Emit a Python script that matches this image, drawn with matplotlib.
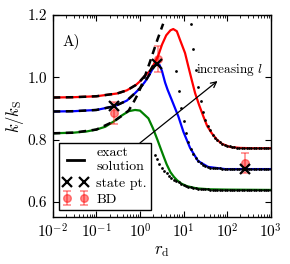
import numpy as np
import matplotlib
matplotlib.use("Agg")
import matplotlib.pyplot as plt
from matplotlib.lines import Line2D

plt.rcParams['font.family'] = ['cmr10', 'DejaVu Serif']
plt.rcParams['mathtext.fontset'] = 'cm'
plt.rcParams['axes.formatter.use_mathtext'] = True

# ---- exact solutions (three values of l) ----
red_r = [0.01, 0.03, 0.1, 0.3, 0.5, 0.8, 1.0, 1.3, 1.7, 2.2, 2.6, 3.2, 4.0, 5.0, 5.8, 7.0, 8.3,
         10.8, 12.9, 15.4, 18.4, 22.7, 28.5, 34.6, 44.4, 58.7, 76.4, 117, 198, 400, 1000]
red_y = [0.935, 0.936, 0.939, 0.948, 0.958, 0.975, 0.987, 1.005, 1.020, 1.048, 1.068, 1.105, 1.135,
         1.151, 1.155, 1.148, 1.120, 1.078, 1.034, 0.991, 0.949, 0.911, 0.874, 0.844, 0.820, 0.799,
         0.786, 0.776, 0.773, 0.772, 0.772]

blue_r = [0.01, 0.03, 0.1, 0.26, 0.5, 0.77, 1.0, 1.31, 1.7, 2.1, 2.5, 2.8, 3.2, 3.77, 4.3, 5.36, 7.6,
          9.9, 14.1, 21.5, 36.5, 89.5, 300, 1000]
blue_y = [0.890, 0.891, 0.895, 0.907, 0.925, 0.949, 0.965, 0.986, 1.012, 1.035, 1.044, 1.040, 1.020,
          0.983, 0.960, 0.927, 0.874, 0.825, 0.773, 0.731, 0.712, 0.705, 0.705, 0.705]

green_r = [0.01, 0.03, 0.06, 0.1, 0.16, 0.25, 0.38, 0.55, 0.77, 1.0, 1.56, 2.0, 2.5, 3.0, 3.5, 4.1,
           5.0, 6.0, 7.1, 9.0, 12, 20, 40, 100, 1000]
green_y = [0.820, 0.822, 0.826, 0.832, 0.841, 0.858, 0.877, 0.891, 0.895, 0.893, 0.868, 0.835, 0.800,
           0.770, 0.745, 0.720, 0.695, 0.680, 0.669, 0.658, 0.650, 0.643, 0.640, 0.639, 0.638]

# ---- small-r expansions (dashed) ----
red_dash_r = [0.01, 0.03, 0.1, 0.3, 0.5, 0.8, 1.0, 1.3, 1.7, 2.2]
red_dash_y = [0.935, 0.936, 0.939, 0.948, 0.958, 0.975, 0.987, 1.005, 1.020, 1.048]
blue_dash_r = [0.01, 0.03, 0.1, 0.26, 0.5, 0.77, 1.0, 1.31, 1.7, 2.1, 2.5]
blue_dash_y = [0.890, 0.891, 0.895, 0.907, 0.925, 0.949, 0.965, 0.986, 1.012, 1.035, 1.044]
green_dash_r = [0.01, 0.03, 0.1, 0.25, 0.4, 0.55, 0.7, 0.92, 1.2, 1.7, 2.5, 3.4]
green_dash_y = [0.820, 0.822, 0.832, 0.858, 0.878, 0.893, 0.918, 0.949, 0.990, 1.050, 1.120, 1.172]

# ---- large-r expansions (dotted) ----
dot_r = [2.154, 2.448, 2.783, 3.162, 3.594, 4.084, 4.642, 5.275, 5.995, 6.813, 7.743, 8.799,
         10.0, 11.37, 12.92, 14.68, 16.68, 18.96, 21.54, 24.48, 27.83, 31.62, 35.94, 40.84,
         46.42, 52.75, 59.95, 68.13, 77.43, 87.99, 100.0, 113.7, 129.2, 146.8, 166.8, 189.6,
         215.4, 244.8, 278.3, 316.2, 359.4, 408.4, 464.2, 527.5, 599.5, 681.3, 774.3, 879.9, 1000.0]
red_dot_y = [None] * 15 + [1.170, 1.090, 1.025, 0.970, 0.925, 0.890, 0.864, 0.845, 0.829, 0.816,
             0.806, 0.798, 0.792, 0.787, 0.783, 0.780, 0.778, 0.776, 0.775, 0.774, 0.774, 0.773,
             0.773, 0.773, 0.773, 0.772, 0.772, 0.772, 0.772, 0.772, 0.772, 0.772, 0.772, 0.772]
blue_dot_y = [None] * 9 + [1.020, 0.955, 0.900, 0.860, 0.822, 0.793, 0.770, 0.752, 0.740, 0.731,
              0.724, 0.719, 0.715, 0.712, 0.710, 0.709, 0.708, 0.707, 0.707, 0.706, 0.706, 0.706,
              0.705, 0.705, 0.705, 0.705, 0.705, 0.705, 0.705, 0.705, 0.705, 0.705, 0.705, 0.705,
              0.705, 0.705, 0.705, 0.705, 0.705, 0.705]
green_dot_y = [0.750, 0.737, 0.720, 0.707, 0.699, 0.691, 0.684, 0.677, 0.671, 0.666, 0.662, 0.658,
               0.654, 0.651, 0.648, 0.646, 0.644, 0.643, 0.642, 0.641, 0.640, 0.640, 0.640, 0.639,
               0.639, 0.639, 0.638, 0.638, 0.638, 0.638, 0.638, 0.638, 0.638, 0.638, 0.638, 0.638,
               0.638, 0.638, 0.638, 0.638, 0.638, 0.638, 0.638, 0.638, 0.638, 0.638, 0.638, 0.638,
               0.638]

# ---- state points and BD ----
state_r = [0.26, 2.5, 258]
state_y = [0.908, 1.044, 0.705]
bd_r = [0.26, 2.56, 258]
bd_y = [0.885, 1.059, 0.725]
bd_err = [0.036, 0.043, 0.031]

xticks = [1e-2, 1e-1, 1e0, 1e1, 1e2, 1e3]
yticks = [0.6, 0.8, 1.0, 1.2]

fig = plt.figure(figsize=(2.9, 2.64), dpi=100)
ax = fig.add_axes([0.182, 0.178, 0.7517, 0.765])

for r, y, c in [(red_r, red_y, 'red'), (blue_r, blue_y, 'blue'), (green_r, green_y, '#008000')]:
    ax.plot(r, y, color=c, lw=1.6, zorder=2)

for r, y in [(red_dash_r, red_dash_y), (blue_dash_r, blue_dash_y), (green_dash_r, green_dash_y)]:
    ax.plot(r, y, color='black', lw=1.8, ls=(0, (3.0, 2.2)), zorder=3)

for ys in [red_dot_y, blue_dot_y, green_dot_y]:
    pr = [r for r, v in zip(dot_r, ys) if v is not None]
    pv = [v for v in ys if v is not None]
    ax.plot(pr, pv, 'o', color='black', ms=2.0, mew=0, zorder=3)

bd = ax.errorbar(bd_r, bd_y, yerr=bd_err, fmt='o', color='red', alpha=0.45, ms=5.5,
                 mec='red', capsize=3, elinewidth=1.2, capthick=1.2, zorder=4)
st, = ax.plot(state_r, state_y, 'x', color='black', ms=7, mew=1.6, zorder=5)

ax.annotate('', xy=(60, 0.988), xytext=(1.0, 0.789),
            arrowprops=dict(arrowstyle='->', color='black', lw=0.9, shrinkA=0, shrinkB=0), zorder=4)
ax.text(19.5, 1.022, r'increasing $l$', fontsize=9.5, va='center', ha='left', zorder=6)
ax.text(0.0165, 1.117, 'A)', fontsize=11, va='center', ha='left')

ax.set_xscale('log')
ax.set_xlim(1e-2, 1e3)
ax.set_ylim(0.551, 1.2)
ax.set_xticks(xticks)
ax.set_yticks(yticks)
ax.set_yticklabels(['0.6', '0.8', '1.0', '1.2'])
ax.tick_params(which='both', direction='in', top=True, right=True, labelsize=11)
ax.tick_params(which='major', length=4.5, width=0.8, pad=4)
ax.tick_params(which='minor', length=2.3, width=0.6)
ax.set_xlabel(r'$r_{\rm d}$', fontsize=12, labelpad=2)
ax.set_ylabel(r'$k/k_{\rm S}$', fontsize=12, labelpad=1)
for s in ax.spines.values():
    s.set_linewidth(1.0)

exact = Line2D([], [], color='black', lw=2)
leg = ax.legend([exact, st, bd], ['exact\nsolution', 'state pt.', 'BD'], loc='lower left',
                bbox_to_anchor=(0.028, 0.035), numpoints=2, fontsize=10, fancybox=False,
                framealpha=1, edgecolor='black', handlelength=1.8, handletextpad=0.6,
                borderpad=0.3, labelspacing=0.25, borderaxespad=0.0)
leg.get_frame().set_linewidth(1.0)
leg.set_zorder(10)

fig.savefig('out.png', dpi=100)
